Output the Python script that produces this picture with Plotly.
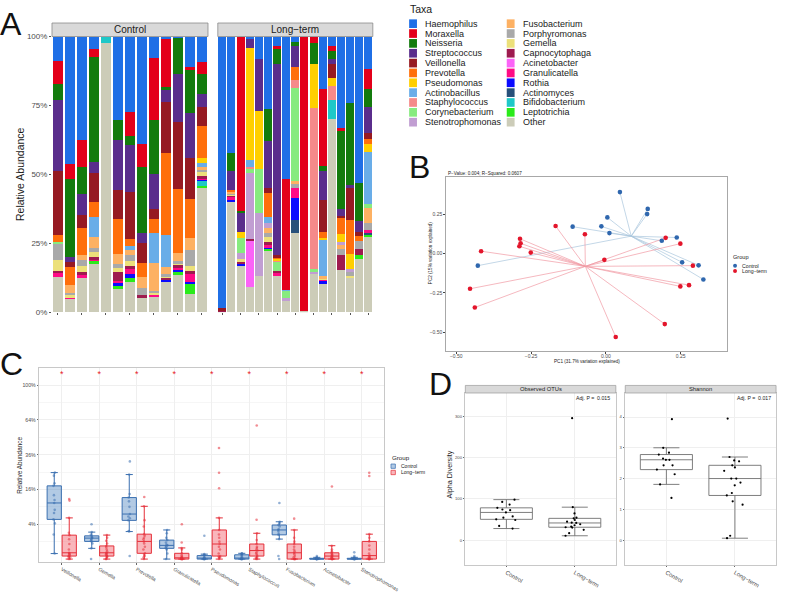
import numpy as np
import plotly.graph_objects as go

W, H = 794, 594
FONT = "Liberation Sans, Arial, Helvetica, sans-serif"


def px(x):
    return x / W


def py(y):
    return 1 - y / H


# ---------------- Panel A data (relative abundance, %) ----------------
taxa = ["Haemophilus", "Moraxella", "Neisseria", "Streptococcus", "Veillonella",
        "Prevotella", "Pseudomonas", "Actinobacillus", "Staphylococcus",
        "Corynebacterium", "Stenotrophomonas", "Fusobacterium", "Porphyromonas",
        "Gemella", "Capnocytophaga", "Acinetobacter", "Granulicatella", "Rothia",
        "Actinomyces", "Bifidobacterium", "Leptotrichia", "Other"]
taxa_colors = ["#1F6FE6", "#E3001A", "#137B0D", "#5A2D8C", "#961A22", "#FF6F0B",
               "#FFCF00", "#69ADE8", "#F58A8A", "#87EB7F", "#C19ED2", "#FDB163",
               "#A9A9A9", "#ECE07A", "#9E1B4F", "#FB63F7", "#FF0A85", "#0B0BFF",
               "#27507A", "#1EC8C8", "#2BEB1A", "#CCCCB8"]
control_samples = ["C%d" % i for i in range(1, 14)]
longterm_samples = ["L%d" % i for i in range(1, 18)]

haemophilus = [8.9, 46.4, 37.5, 4.4, 0, 30.1, 27.4, 39.0, 7.7, 1.0, 0.3, 11.1, 9.3,
               98.6, 42.3, 0, 0.6, 8.0, 26.2, 3.6, 51.8, 2.0, 0, 0, 18.9, 3.6, 33.2, 24.2, 53.0, 11.8]
moraxella = [8.4, 5.4, 9.8, 3.1, 0, 0, 8.6, 8.3, 22.4, 17.2, 0, 0.6, 4.4,
             0, 0, 63.3, 0, 0, 0, 0.6, 40.0, 0, 99.5, 2.2, 28.2, 1.5, 1.2, 0, 0, 7.1]
neisseria = [5.7, 28.3, 9.8, 38.0, 0, 7.4, 3.3, 24.1, 19.7, 1.1, 13.3, 16.0, 7.1,
             0, 6.3, 0.4, 0, 0, 11.7, 5.7, 0, 1.6, 0, 7.7, 1.8, 3.2, 28.0, 29.7, 14.0, 6.5]
streptococcus = [25.8, 1.7, 7.5, 4.1, 0, 18.2, 17.0, 3.4, 12.7, 4.3, 17.6, 16.3, 4.6,
                 0, 7.0, 7.1, 3.6, 19.1, 17.1, 69.3, 0, 7.4, 0, 0, 10.5, 1.6, 2.6, 1.2, 4.0, 9.5]
veillonella = [23.2, 1.8, 5.0, 10.3, 0, 10.6, 17.3, 7.3, 3.8, 18.7, 24.1, 14.9, 7.1,
               0.6, 0, 0, 0, 0, 1.9, 0.6, 0, 0, 0, 0, 11.5, 5.3, 0.8, 11.4, 1.2, 2.1]
prevotella = [2.4, 6.5, 9.6, 5.6, 0, 12.5, 2.4, 5.0, 4.8, 29.7, 23.6, 14.0, 11.5,
              0, 0.6, 0, 0, 0, 8.6, 0.6, 0, 4.8, 0, 0, 2.0, 0, 5.7, 12.4, 2.0, 2.0]
pseudomonas = [0, 0, 0, 0, 0, 0, 0, 0, 0, 0, 0, 0, 1.8,
               0, 0, 2.4, 40.7, 20.9, 0, 0.6, 0, 0, 0, 16.1, 0.6, 2.7, 3.0, 5.5, 0, 2.8]
actinobacillus = [0, 0, 0, 7.1, 0, 0, 1.4, 0, 11.0, 11.7, 0, 0, 1.5,
                  0, 0, 0, 2.4, 0, 2.0, 0, 0.3, 0, 0, 0, 13.3, 0, 0, 0, 0, 18.8]
staphylococcus = [0, 0, 0, 0, 0, 0, 0, 0, 0, 0, 0, 0, 0,
                  0, 0, 0, 0.9, 0, 0, 0.8, 0, 3.0, 0, 58.3, 0, 5.1, 0, 0, 0, 0]
corynebacterium = [0.5, 0, 0, 0, 0, 0, 0, 0, 0, 0, 0, 0, 0,
                   0, 0, 5.4, 1.2, 15.9, 0, 3.3, 2.7, 33.6, 0, 0.7, 0, 0, 0, 0, 0, 1.7]
stenotrophomonas = [0, 0, 0, 0, 0, 0, 0, 0, 0, 0, 0, 0, 0,
                    0, 0, 2.1, 24.2, 22.8, 1.9, 0, 1.0, 0, 0, 0.7, 0, 0, 0.6, 0.5, 0, 0]
fusobacterium = [0, 2.8, 1.8, 4.2, 0, 3.7, 1.8, 4.0, 10.2, 2.4, 2.9, 4.7, 0.9,
                 0, 0.7, 0, 0, 0, 1.7, 0, 0, 0.6, 0, 0, 0.6, 0, 2.0, 0, 0, 5.4]
porphyromonas = [6.3, 0.9, 2.1, 1.4, 0, 1.4, 2.3, 2.7, 0.8, 0.6, 0.6, 5.7, 0.8,
                 0, 0.3, 0, 0, 0, 1.5, 0, 0, 1.8, 0, 0, 0, 0, 2.0, 1.8, 2.8, 2.4]
gemella = [3.9, 0.6, 2.4, 1.9, 0, 1.6, 1.6, 0, 0.4, 0.8, 0.8, 1.8, 1.6,
           0, 0.3, 0.6, 0, 0, 2.0, 0, 0, 0, 0, 0, 0.6, 0, 0, 1.0, 0, 0]
capnocytophaga = [0.4, 0, 0.7, 0.6, 0, 3.0, 1.2, 0.6, 0, 0.6, 0.6, 1.2, 0.6,
                  0.3, 0.8, 1.2, 0.3, 0, 1.0, 0.8, 0, 0, 0, 0, 0, 0, 5.5, 0, 2.4, 0]
acinetobacter = [0, 0, 0, 0, 0, 0, 0, 0, 0, 0, 0, 0, 0,
                 0, 0, 0, 17.1, 0, 0, 0, 0, 0, 0, 0, 0, 0, 0, 0, 0, 0]
granulicatella = [1.6, 0.3, 1.4, 0.8, 0, 0.6, 2.0, 0, 0.9, 0, 1.0, 2.6, 0.4,
                  0, 0.6, 0, 0, 0, 0.6, 0.6, 0, 3.9, 0, 0, 0.8, 0, 0, 0, 0, 1.2]
rothia = [0, 0.3, 0, 0, 0, 1.5, 1.2, 0, 0, 0.6, 1.0, 0.6, 0.4,
          0, 1.2, 0.8, 0, 0, 0.6, 0, 0, 7.7, 0, 0, 0.6, 0, 0, 0, 0, 0]
actinomyces = [0, 0, 0, 0, 0, 0, 0, 0, 0, 0, 0, 0, 0,
               0, 0, 0, 0, 0, 0, 0, 0, 5.0, 0, 0, 0, 0, 0, 0, 0, 0.5]
bifidobacterium = [0, 0, 0, 0, 2.4, 0, 0, 0, 0, 0, 0, 0, 2.1,
                   0, 0, 0, 0, 0, 0, 0, 0, 0, 0, 0, 0, 7.0, 0, 0, 0, 0]
leptotrichia = [0, 0, 0, 0.5, 0, 0.7, 1.5, 0, 0, 0, 1.0, 4.0, 0.8,
                0, 0, 0, 0, 0, 0.6, 0, 0, 0, 0, 0, 0, 0, 0, 0, 1.2, 0.9]
other = [12.9, 5.0, 12.4, 18.0, 97.6, 8.7, 11.0, 5.6, 5.6, 11.3, 13.5, 6.5, 45.0,
         0.5, 39.9, 16.7, 9.0, 13.3, 22.6, 13.5, 4.2, 28.6, 0.5, 14.3, 10.6, 70.0, 15.4, 12.3, 19.4, 27.3]

abundance = [haemophilus, moraxella, neisseria, streptococcus, veillonella, prevotella,
             pseudomonas, actinobacillus, staphylococcus, corynebacterium, stenotrophomonas,
             fusobacterium, porphyromonas, gemella, capnocytophaga, acinetobacter,
             granulicatella, rothia, actinomyces, bifidobacterium, leptotrichia, other]

# ---------------- Panel B data (PCoA) ----------------
ctrl_pc1 = [0.047, 0.140, 0.138, 0.005, -0.111, -0.015, 0.012, 0.187, 0.237, -0.428, 0.255, 0.310, 0.326]
ctrl_pc2 = [0.391, 0.284, 0.251, 0.230, 0.171, 0.173, 0.130, 0.081, 0.102, -0.077, -0.056, -0.075, -0.165]
lt_pc1 = [-0.168, -0.070, -0.287, -0.285, -0.289, -0.251, -0.417, -0.005, 0.200, 0.249,
          0.291, 0.278, 0.249, -0.454, -0.438, 0.197, 0.033]
lt_pc2 = [0.175, 0.123, 0.094, 0.065, 0.046, 0.006, 0.015, -0.040, 0.100, 0.063,
          -0.077, -0.201, -0.209, -0.224, -0.343, -0.449, -0.531]

# ---------------- Panel C data (relative abundance, %) ----------------
genera = ["Veillonella", "Gemella", "Prevotella", "Granulicatella", "Pseudomonas",
          "Staphylococcus", "Fusobacterium", "Acinetobacter", "Stenotrophomonas"]
veil_ctrl = [0.1, 2.0, 4.2, 5.2, 7.0, 8.0, 10.4, 11.5, 13.5, 17.7, 19.0, 23.0, 24.7]
veil_lt = [0, 0, 0.01, 0.02, 0.03, 0.05, 0.08, 0.1, 0.13, 0.3, 0.75, 1.3, 1.89, 2.3, 5.6, 11.3, 11.9]
gem_ctrl = [0.0, 0.38, 0.8, 1.03, 1.15, 1.3, 1.45, 1.5, 1.6, 1.78, 2.0, 2.4, 4.0]
gem_lt = [0, 0, 0.01, 0.02, 0.03, 0.05, 0.08, 0.1, 0.13, 0.2, 0.3, 0.45, 0.57, 0.8, 1.1, 1.5, 1.9]
prev_ctrl = [0.03, 2.5, 2.6, 4.95, 5.5, 6.0, 6.7, 9.0, 11.0, 12.5, 14.0, 23.6, 31.5]
prev_lt = [0, 0.01, 0.03, 0.06, 0.11, 0.3, 0.5, 0.8, 1.03, 1.3, 1.5, 1.8, 2.05, 3.5, 5.0, 9.2, 12.7]
gran_ctrl = [0, 0.1, 0.3, 0.38, 0.45, 0.55, 0.62, 0.7, 0.9, 1.19, 1.5, 2.2, 2.8]
gran_lt = [0, 0, 0, 0, 0, 0, 0.002, 0.004, 0.005, 0.01, 0.02, 0.05, 0.11, 0.3, 0.41, 0.91, 4.0]
pseu_ctrl = [0, 0, 0, 0, 0, 0, 0.001, 0.005, 0.01, 0.04, 0.06, 0.08, 1.8]
pseu_lt = [0, 0.005, 0.01, 0.02, 0.03, 0.1, 0.3, 0.5, 0.75, 1.0, 1.5, 2.0, 2.8, 5.6, 16.6, 24.6, 40.8]
staph_ctrl = [0, 0, 0, 0, 0, 0, 0.003, 0.01, 0.03, 0.06, 0.08, 0.1, 0.11]
staph_lt = [0, 0, 0.005, 0.01, 0.03, 0.06, 0.1, 0.15, 0.24, 0.3, 0.4, 0.5, 0.75, 1.2, 2.2, 5.1, 59.0]
fuso_ctrl = [0, 0.03, 1.32, 1.94, 2.1, 2.5, 2.8, 3.0, 3.5, 3.83, 4.2, 4.6, 10.4]
fuso_lt = [0, 0, 0, 0, 0, 0.01, 0.03, 0.08, 0.13, 0.2, 0.3, 0.5, 0.75, 1.0, 1.5, 2.8, 5.4]
acin_ctrl = [0, 0, 0, 0, 0, 0, 0, 0, 0.001, 0.002, 0.005, 0.01, 0.03]
acin_lt = [0, 0, 0, 0, 0, 0.005, 0.01, 0.02, 0.03, 0.05, 0.07, 0.1, 0.13, 0.2, 0.3, 0.59, 17.4]
steno_ctrl = [0, 0, 0, 0, 0, 0, 0, 0, 0.001, 0.002, 0.01, 0.03, 0.15]
steno_lt = [0, 0, 0, 0, 0, 0.005, 0.01, 0.02, 0.04, 0.1, 0.3, 0.6, 1.03, 1.5, 2.05, 22.8, 24.6]
c_ticks_pct = [4, 16, 36, 64, 100]
signif_level_pct = 112

# ---------------- Panel D data ----------------
d_groups = ["Control", "Long\u2212term"]
otu_ctrl = [28, 34.4, 48.8, 50.4, 54.4, 57.6, 67.2, 72.8, 74.4, 78.4, 86.4, 92.8, 98.4]
otu_lt = [10.4, 16.8, 24.8, 30.4, 31.2, 32.8, 36, 38.4, 41.6, 42.4, 44.8, 48.8, 52.8, 54.4, 64.8, 80, 296.8]
shan_ctrl = [1.37, 1.81, 2.14, 2.29, 2.43, 2.43, 2.61, 2.61, 2.65, 2.78, 2.84, 3.0, 3.93]
shan_lt = [0.06, 0.14, 1.15, 1.26, 1.45, 1.53, 1.78, 1.87, 2.0, 2.0, 2.25, 2.36, 2.43, 2.56, 2.59, 2.70, 3.95]

# ======================================================================
fig = go.Figure()
shapes = []
annotations = []

# ---------------- Panel A ----------------
ab = np.array(abundance, dtype=float)
frac = ab / ab.sum(axis=0, keepdims=True)
n_c = len(control_samples)
for k in reversed(range(len(taxa))):
    fig.add_trace(go.Bar(x=control_samples, y=frac[k, :n_c], xaxis="x", yaxis="y",
                         marker=dict(color=taxa_colors[k], line=dict(width=0)),
                         name=taxa[k], showlegend=False))
    fig.add_trace(go.Bar(x=longterm_samples, y=frac[k, n_c:], xaxis="x2", yaxis="y2",
                         marker=dict(color=taxa_colors[k], line=dict(width=0)),
                         name=taxa[k], showlegend=False))

A_x1 = (53, 212)
A_x2 = (222, 380)
A_y = (33, 313)
for (x0, x1), label in [(A_x1, "Control"), (A_x2, "Long\u2212term")]:
    shapes.append(dict(type="rect", xref="paper", yref="paper", x0=px(x0), x1=px(x1),
                       y0=py(A_y[0]), y1=py(19.3), fillcolor="#d9d9d9",
                       line=dict(color="#8a8a8a", width=0.8), layer="above"))
    annotations.append(dict(text=label, x=px((x0 + x1) / 2), y=py(26.3), xref="paper", yref="paper",
                            showarrow=False, font=dict(size=10, color="#1a1a1a"),
                            xanchor="center", yanchor="middle"))
annotations.append(dict(text="Relative Abundance", x=px(21), y=py(173), xref="paper", yref="paper",
                        showarrow=False, textangle=-90, font=dict(size=10.5, color="#1a1a1a"),
                        xanchor="center", yanchor="middle"))

# Taxa legend (two columns)
annotations.append(dict(text="Taxa", x=px(416), y=py(5), xref="paper", yref="paper",
                        showarrow=False, font=dict(size=10.5, color="#1a1a1a"),
                        xanchor="left", yanchor="middle"))
for i, (name, col) in enumerate(zip(taxa, taxa_colors)):
    c = i // 11
    r = i % 11
    sx = 417 if c == 0 else 516.5
    cy = 20 + 10 * r
    shapes.append(dict(type="rect", xref="paper", yref="paper", x0=px(sx), x1=px(sx + 8),
                       y0=py(cy + 4.4), y1=py(cy - 4.4), fillcolor=col, line=dict(width=0)))
    annotations.append(dict(text=name, x=px(sx + 14.5), y=py(cy), xref="paper", yref="paper",
                            showarrow=False, font=dict(size=9, color="#1a1a1a"),
                            xanchor="left", yanchor="middle"))

# ---------------- Panel B ----------------
def spokes(xs, ys):
    cx, cy = float(np.mean(xs)), float(np.mean(ys))
    lx, ly = [], []
    for a, b in zip(xs, ys):
        lx += [cx, a, None]
        ly += [cy, b, None]
    return lx, ly


ctrl_col, lt_col = "#2F67AE", "#E3152B"
for xs, ys, lc in [(ctrl_pc1, ctrl_pc2, "#A9C5DD"), (lt_pc1, lt_pc2, "#F09AA3")]:
    lx, ly = spokes(xs, ys)
    fig.add_trace(go.Scatter(x=lx, y=ly, mode="lines", xaxis="x3", yaxis="y3",
                             line=dict(color=lc, width=0.7), showlegend=False, hoverinfo="skip"))
for xs, ys, pc in [(ctrl_pc1, ctrl_pc2, ctrl_col), (lt_pc1, lt_pc2, lt_col)]:
    fig.add_trace(go.Scatter(x=xs, y=ys, mode="markers", xaxis="x3", yaxis="y3",
                             marker=dict(color=pc, size=4.6, line=dict(width=0)), showlegend=False))

annotations += [
    dict(text="P\u2212Value: 0.004; R\u2212Squared: 0.0607", x=px(455), y=py(172.3), xref="paper",
         yref="paper", showarrow=False, font=dict(size=4.6, color="#1a1a1a"), xanchor="left", yanchor="middle"),
    dict(text="PC1 (31.7% variation explained)", x=px(598), y=py(363.5), xref="paper", yref="paper",
         showarrow=False, font=dict(size=4.6, color="#1a1a1a"), xanchor="center", yanchor="middle"),
    dict(text="PC2 (15% variation explained)", x=px(438.3), y=py(253), xref="paper", yref="paper",
         showarrow=False, textangle=-90, font=dict(size=4.6, color="#1a1a1a"), xanchor="center", yanchor="middle"),
    dict(text="Group", x=px(745.5), y=py(257.3), xref="paper", yref="paper", showarrow=False,
         font=dict(size=5.6, color="#1a1a1a"), xanchor="left", yanchor="middle"),
    dict(text="Control", x=px(754), y=py(265.7), xref="paper", yref="paper", showarrow=False,
         font=dict(size=5.2, color="#1a1a1a"), xanchor="left", yanchor="middle"),
    dict(text="Long\u2212term", x=px(754), y=py(271.1), xref="paper", yref="paper", showarrow=False,
         font=dict(size=5.2, color="#1a1a1a"), xanchor="left", yanchor="middle"),
]
for cy, col in [(265.7, ctrl_col), (271.1, lt_col)]:
    shapes.append(dict(type="circle", xref="paper", yref="paper", x0=px(747.2), x1=px(751.2),
                       y0=py(cy + 2), y1=py(cy - 2), fillcolor=col, line=dict(width=0)))

# ---------------- Panel C ----------------
c_ctrl = [veil_ctrl, gem_ctrl, prev_ctrl, gran_ctrl, pseu_ctrl, staph_ctrl, fuso_ctrl, acin_ctrl, steno_ctrl]
c_lt = [veil_lt, gem_lt, prev_lt, gran_lt, pseu_lt, staph_lt, fuso_lt, acin_lt, steno_lt]
dodge = 0.2
for groups, name, shift, fillc, linec, ptc in [
        (c_ctrl, "Control", -dodge, "rgba(72,128,190,0.42)", "#3A6FB0", "rgba(58,111,176,0.55)"),
        (c_lt, "Long-term", dodge, "rgba(240,80,92,0.42)", "#E5303A", "rgba(229,48,58,0.55)")]:
    xs = [gi + shift for gi, vals in enumerate(groups) for _ in vals]
    ys = [float(np.sqrt(v)) for vals in groups for v in vals]
    fig.add_trace(go.Box(x=xs, y=ys, xaxis="x4", yaxis="y4", name=name, boxpoints="all",
                         jitter=0.15, pointpos=0, quartilemethod="inclusive", width=0.38,
                         fillcolor=fillc, line=dict(color=linec, width=1),
                         marker=dict(color=ptc, size=2.6), showlegend=False, hoverinfo="y"))
fig.add_trace(go.Scatter(x=list(range(len(genera))), y=[float(np.sqrt(signif_level_pct))] * len(genera),
                         mode="text", text=["*"] * len(genera), xaxis="x4", yaxis="y4",
                         cliponaxis=False, textfont=dict(color="#E8202A", size=9),
                         showlegend=False, hoverinfo="skip"))
annotations += [
    dict(text="Relative Abundance", x=px(20), y=py(468.3), xref="paper", yref="paper", showarrow=False,
         textangle=-90, font=dict(size=6.4, color="#1a1a1a"), xanchor="center", yanchor="middle"),
    dict(text="Group", x=px(397.5), y=py(460), xref="paper", yref="paper", showarrow=False,
         font=dict(size=6.2, color="#1a1a1a"), xanchor="left", yanchor="middle"),
    dict(text="Control", x=px(406.5), y=py(469.3), xref="paper", yref="paper", showarrow=False,
         font=dict(size=5, color="#1a1a1a"), xanchor="left", yanchor="middle"),
    dict(text="Long\u2212term", x=px(406.5), y=py(475.7), xref="paper", yref="paper", showarrow=False,
         font=dict(size=5, color="#1a1a1a"), xanchor="left", yanchor="middle"),
]
for cy, fc, lc in [(469.3, "rgba(72,128,190,0.42)", "#3A6FB0"), (475.7, "rgba(240,80,92,0.42)", "#E5303A")]:
    shapes.append(dict(type="rect", xref="paper", yref="paper", x0=px(398.5), x1=px(403),
                       y0=py(cy + 2.2), y1=py(cy - 2.2), fillcolor=fc, line=dict(color=lc, width=0.7)))

# ---------------- Panel D ----------------
d_pos = [0] * len(otu_ctrl) + [1] * len(otu_lt)
for ydata, xa, ya in [(otu_ctrl + otu_lt, "x5", "y5"), (shan_ctrl + shan_lt, "x6", "y6")]:
    fig.add_trace(go.Box(x=d_pos, y=ydata, xaxis=xa, yaxis=ya, boxpoints="all", jitter=0.5,
                         pointpos=0, quartilemethod="inclusive", width=0.76, fillcolor="white",
                         line=dict(color="#707070", width=0.9),
                         marker=dict(color="black", size=2.2), showlegend=False))
D1 = (474.3, 627.7)
D2 = (637.3, 791)
D_y = (395, 569.3)
for (x0, x1), label, ptxt in [(D1, "Observed OTUs", "Adj. P =  0.015"), (D2, "Shannon", "Adj. P =  0.017")]:
    shapes.append(dict(type="rect", xref="paper", yref="paper", x0=px(x0), x1=px(x1),
                       y0=py(D_y[0]), y1=py(387.3), fillcolor="#d9d9d9",
                       line=dict(color="#9a9a9a", width=0.7), layer="above"))
    annotations.append(dict(text=label, x=px((x0 + x1) / 2), y=py(391.2), xref="paper", yref="paper",
                            showarrow=False, font=dict(size=5.8, color="#1a1a1a"),
                            xanchor="center", yanchor="middle"))
    annotations.append(dict(text=ptxt, x=px(x1 - 3.5), y=py(400.2), xref="paper", yref="paper",
                            showarrow=False, font=dict(size=5.2, color="#1a1a1a"),
                            xanchor="right", yanchor="middle"))
annotations.append(dict(text="Alpha Diversity", x=px(458.5), y=py(478), xref="paper", yref="paper",
                        showarrow=False, textangle=-90, font=dict(size=7.2, color="#1a1a1a"),
                        xanchor="center", yanchor="middle"))

# Panel letters (centred on the glyph position)
for letter, xc, yc in [("A", 11, 20), ("B", 428, 165.5), ("C", 12, 365.5), ("D", 449, 385.5)]:
    annotations.append(dict(text=letter, x=px(xc), y=py(yc), xref="paper", yref="paper",
                            showarrow=False, font=dict(size=32, color="#111111"),
                            xanchor="center", yanchor="middle"))

# ---------------- Axes ----------------
tickfont_a = dict(size=8, color="#4d4d4d")
small_tf = dict(size=5, color="#4d4d4d")
grid = "#efefef"
border = "#c8c8c8"


def facet_axis(**kw):
    base = dict(ticks="outside", ticklen=1.5, tickwidth=0.5, tickcolor="#666", showgrid=True,
                gridcolor=grid, gridwidth=0.6, zeroline=False, showline=True, mirror=True,
                linecolor=border, linewidth=1)
    base.update(kw)
    return base


layout_axes = dict(
    xaxis=dict(domain=[px(A_x1[0]), px(A_x1[1])], anchor="y", type="category",
               range=[-0.5, len(control_samples) - 0.5], showticklabels=False, ticks="outside",
               ticklen=2, tickwidth=0.6, tickcolor="#555", showgrid=False, zeroline=False),
    yaxis=dict(domain=[py(A_y[1]), py(A_y[0])], anchor="x", range=[0, 1],
               tickvals=[0, 0.25, 0.5, 0.75, 1], ticktext=["0%", "25%", "50%", "75%", "100%"],
               ticks="outside", ticklen=2, tickwidth=0.6, tickcolor="#555", tickfont=tickfont_a,
               showgrid=False, zeroline=False),
    xaxis2=dict(domain=[px(A_x2[0]), px(A_x2[1])], anchor="y2", type="category",
                range=[-0.5, len(longterm_samples) - 0.5], showticklabels=False, ticks="outside",
                ticklen=2, tickwidth=0.6, tickcolor="#555", showgrid=False, zeroline=False),
    yaxis2=dict(domain=[py(A_y[1]), py(A_y[0])], anchor="x2", matches="y", range=[0, 1],
                showticklabels=False, ticks="", showgrid=False, zeroline=False),
    xaxis3=dict(domain=[px(455), px(741)], anchor="y3", range=[-0.533, 0.405],
                tickvals=[-0.5, -0.25, 0, 0.25], ticktext=["\u22120.50", "\u22120.25", "0.00", "0.25"],
                ticks="outside", ticklen=2, tickwidth=0.5, tickcolor="#444", tickfont=small_tf,
                ticklabelstandoff=-2,
                showgrid=False, zeroline=False, showline=True, mirror=True, linecolor="#a8a8a8",
                linewidth=1.2),
    yaxis3=dict(domain=[py(352), py(176)], anchor="x3", range=[-0.618, 0.485],
                tickvals=[-0.5, -0.25, 0, 0.25], ticktext=["\u22120.50", "\u22120.25", "0.00", "0.25"],
                ticks="outside", ticklen=2, tickwidth=0.5, tickcolor="#444", tickfont=small_tf,
                showgrid=False, zeroline=False, showline=True, mirror=True, linecolor="#a8a8a8",
                linewidth=1.2),
    xaxis4=facet_axis(domain=[px(40), px(391.7)], anchor="y4", range=[-0.6, len(genera) - 0.4],
                      tickvals=list(range(len(genera))), ticktext=genera, tickangle=30,
                      tickfont=dict(size=5, color="#4d4d4d")),
    yaxis4=facet_axis(domain=[py(566.7), py(370)], anchor="x4", range=[-0.175, 10.96],
                      tickvals=[float(np.sqrt(v)) for v in c_ticks_pct],
                      ticktext=["%d%%" % v for v in c_ticks_pct],
                      tickfont=dict(size=5.2, color="#4d4d4d"),
                      minor=dict(tickvals=[1, 3, 5, 7, 9], showgrid=True, gridcolor="#f6f6f6",
                                 gridwidth=0.4, ticks="")),
    xaxis5=facet_axis(domain=[px(D1[0]), px(D1[1])], anchor="y5", range=[-0.6, 1.6],
                      tickvals=[0, 1], ticktext=d_groups, tickangle=30,
                      tickfont=dict(size=5.8, color="#4d4d4d")),
    yaxis5=facet_axis(domain=[py(D_y[1]), py(D_y[0])], anchor="x5", range=[-60, 358],
                      tickvals=[0, 100, 200, 300], tickfont=dict(size=4.2, color="#4d4d4d")),
    xaxis6=facet_axis(domain=[px(D2[0]), px(D2[1])], anchor="y6", range=[-0.6, 1.6],
                      tickvals=[0, 1], ticktext=d_groups, tickangle=30,
                      tickfont=dict(size=5.8, color="#4d4d4d")),
    yaxis6=facet_axis(domain=[py(D_y[1]), py(D_y[0])], anchor="x6", range=[-0.8, 4.78],
                      tickvals=[0, 1, 2, 3, 4], tickfont=dict(size=4.2, color="#4d4d4d")),
)

fig.update_layout(
    width=W, height=H, autosize=False,
    margin=dict(l=0, r=0, t=0, b=0, pad=0),
    paper_bgcolor="white", plot_bgcolor="white",
    font=dict(family=FONT, color="#1a1a1a"),
    showlegend=False,
    barmode="stack", bargap=0.12,
    boxmode="overlay",
    shapes=shapes, annotations=annotations,
    **layout_axes,
)

# remove the browser's default 8px body margin so the 794x594 figure fills the window exactly
fig.write_html("out.html", config={"displayModeBar": False},
               post_script="document.body.style.margin='0px';document.body.style.overflow='hidden';")
